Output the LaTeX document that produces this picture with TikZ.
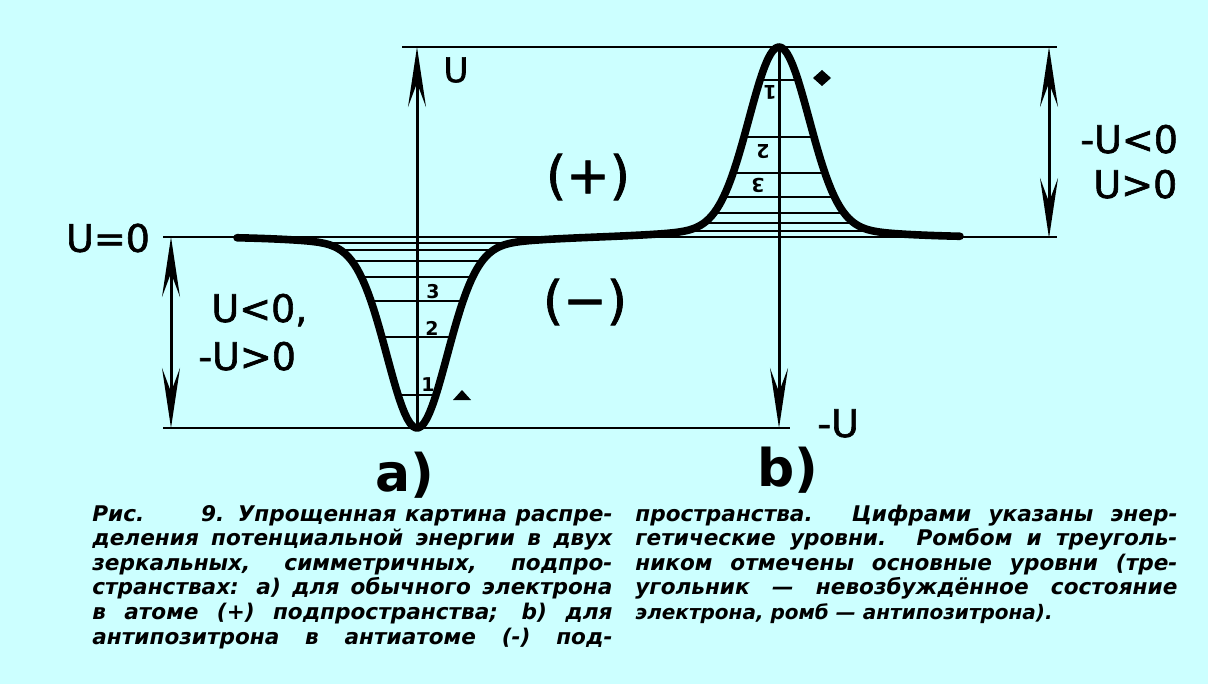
\documentclass[tikz,border=0pt]{standalone}
\usepackage{fontspec}
\setmainfont{DejaVu Sans}
\newfontfamily\labfont[FakeBold=1.6]{DejaVu Sans}
\usetikzlibrary{arrows.meta}
\definecolor{bgc}{RGB}{204,255,255}
\tikzset{
  BT/.tip={Stealth[length=30pt,width=9pt,inset=12pt]},
  refline/.style={line width=1pt},
  levelline/.style={line width=0.9pt},
  axisline/.style={line width=1.5pt},
  curveline/.style={line width=3.8pt,line join=round,line cap=round},
  lab/.style={font=\labfont\fontsize{19}{22}\selectfont, inner sep=0pt},
  biglab/.style={font=\labfont\fontsize{26}{30}\selectfont, inner sep=0pt},
  sublab/.style={font=\bfseries\fontsize{26}{30}\selectfont, inner sep=0pt},
  dig/.style={font=\bfseries\fontsize{9.5}{10}\selectfont, inner sep=0pt},
  captext/.style={font=\bfseries\itshape\fontsize{10.8}{12}\selectfont, inner sep=0pt, anchor=base west},
}
\begin{document}
\begin{tikzpicture}[x=0.5pt,y=-0.5pt,
  declare function={gg(\u)=0.95*exp(-min(\u*\u/0.18,15))+0.05*exp(-min(\u*\u/1.28,15));
                    yf(\t)=237+191*gg((\t-417)/100)-190*gg((\t-779)/100);}]
\fill[bgc] (0,0) rectangle (1208,684);
\useasboundingbox (0,0) rectangle (1208,684);

% energy levels a)
\begin{scope}
  \clip plot[domain=290:545,samples=150] (\x,{yf(\x)}) -- cycle;
  \foreach \yy in {243,250,261,277,301,337,395} \draw[levelline] (290,\yy) -- (545,\yy);
\end{scope}
% energy levels b)
\begin{scope}
  \clip plot[domain=640:920,samples=150] (\x,{yf(\x)}) -- cycle;
  \foreach \yy in {231,223,213,197,173,137,80} \draw[levelline] (640,\yy) -- (920,\yy);
\end{scope}

% reference lines
\coordinate (topL) at (402,47);   \coordinate (topR) at (1057,47);
\coordinate (zeroL) at (163,237); \coordinate (zeroR) at (1057,237);
\coordinate (botL) at (163,428);  \coordinate (botR) at (790,428);
\draw[refline] (topL) -- (topR);
\draw[refline] (zeroL) -- (zeroR);
\draw[refline] (botL) -- (botR);

% curve
\draw[curveline] plot[domain=237:960,samples=260] (\x,{yf(\x)});

% axes
\coordinate (aBot) at (417,428); \coordinate (aTop) at (417,47);
\coordinate (bTop) at (779,47);  \coordinate (bBot) at (779,428);
\draw[axisline,-{BT}] (aBot) -- (aTop);
\draw[axisline,-{BT}] (bTop) -- (bBot);

% double arrows
\coordinate (lA) at (171,237); \coordinate (lB) at (171,428);
\coordinate (rA) at (1049,47); \coordinate (rB) at (1049,238);
\draw[axisline,{BT}-{BT}] (lA) -- (lB);
\draw[axisline,{BT}-{BT}] (rA) -- (rB);

% markers
\fill (453,400) -- (471,400) -- (462,390) -- cycle;
\fill (813,78) -- (822,70) -- (831,78) -- (822,86) -- cycle;

% level digits
\node[dig] (a1) at (428,385) {1};
\node[dig] (a2) at (432,328) {2};
\node[dig] (a3) at (433,292) {3};
\node[dig,rotate=180] (b1) at (770,92) {1};
\node[dig,rotate=180] (b2) at (763,152) {2};
\node[dig,rotate=180] (b3) at (758,185) {3};

% labels
\node[lab,font=\labfont\fontsize{17}{20}\selectfont] (U) at (456,70) {U};
\node[lab] (U0) at (108,238) {U=0};
\node[lab,anchor=base west] (Ulz) at (211,322) {U<0,};
\node[lab,anchor=base west] (mUgz) at (198,370) {-U>0};
\node[lab,anchor=base west] (mUlz) at (1080,153) {-U<0};
\node[lab,anchor=base west] (Ugz) at (1093,198) {U>0};
\node[lab,anchor=base west] (mU) at (817,437) {-U};
\node[biglab] (plus) at (588,177) {(+)};
\node[biglab] (minus) at (585,302) {(−)};
\node[sublab] (la) at (405,475) {a)};
\node[sublab] (lb) at (788,470) {b)};

% caption, left column
\node[captext] (c1) at (92,521) {\makebox[260pt][s]{Рис.\hspace{10pt plus 40pt} 9. Упрощенная картина распре-}};
\node[captext] (c2) at (92,545.6) {\makebox[260pt][s]{деления потенциальной энергии в двух}};
\node[captext] (c3) at (92,570.2) {\makebox[260pt][s]{зеркальных, симметричных, подпро-}};
\node[captext] (c4) at (92,594.8) {\makebox[260pt][s]{странствах: а) для обычного электрона}};
\node[captext] (c5) at (92,619.4) {\makebox[260pt][s]{в атоме (+) подпространства; b) для}};
\node[captext] (c6) at (92,644) {\makebox[260pt][s]{антипозитрона в антиатоме (-) под-}};
% caption, right column
\node[captext] (d1) at (635,521) {\makebox[271pt][s]{пространства. Цифрами указаны энер-}};
\node[captext] (d2) at (635,545.6) {\makebox[271pt][s]{гетические уровни. Ромбом и треуголь-}};
\node[captext] (d3) at (635,570.2) {\makebox[271pt][s]{ником отмечены основные уровни (тре-}};
\node[captext] (d4) at (635,594.8) {\makebox[271pt][s]{угольник — невозбуждённое состояние}};
\node[captext,font=\bfseries\itshape\fontsize{10}{12}\selectfont] (d5) at (635,619.4) {электрона, ромб — антипозитрона).};
\end{tikzpicture}
\end{document}
